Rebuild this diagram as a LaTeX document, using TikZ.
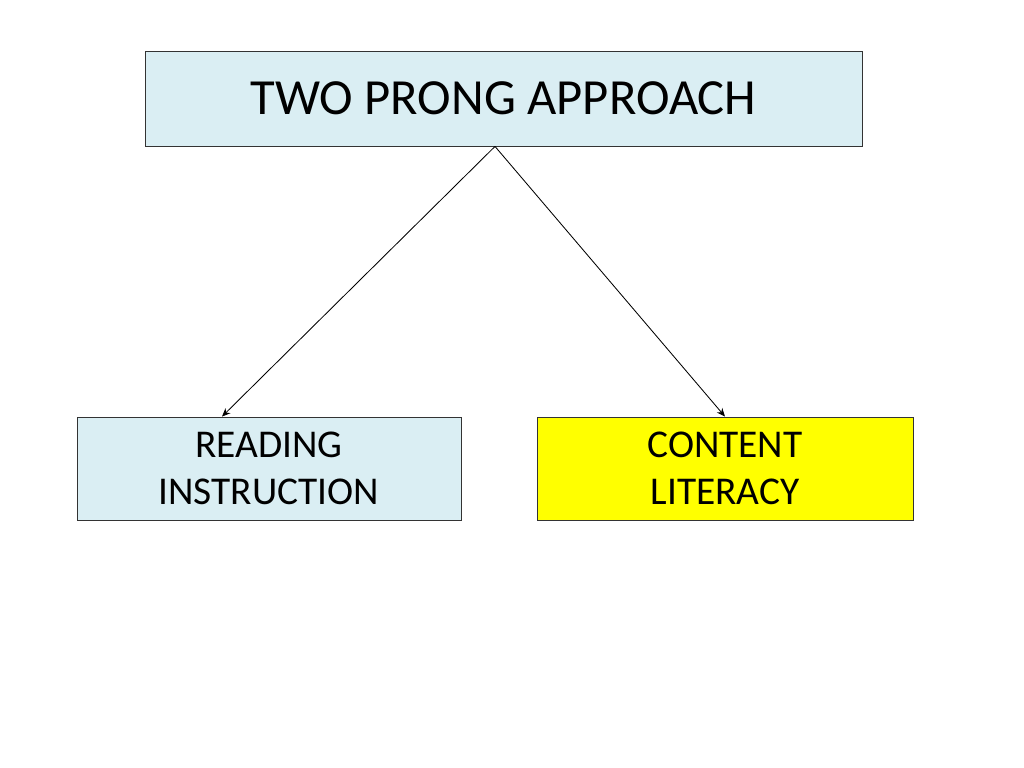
\documentclass[tikz,border=0pt]{standalone}
\usepackage{fontspec}
\setmainfont{Carlito}
\usepackage{xcolor}
\usetikzlibrary{positioning,calc,arrows.meta}
\definecolor{paleaqua}{RGB}{218,238,243}
\definecolor{brightyellow}{RGB}{255,255,0}
\tikzset{
    box/.style={draw=black!80, line width=0.6pt, minimum height=2.575cm, align=center, inner sep=0pt},
    prong/.style={-{Stealth[length=6pt,width=5pt]}, line width=0.6pt}
}
\begin{document}
\begin{tikzpicture}
    \useasboundingbox (0,0) rectangle (25.6,-19.2);
    \node[box, fill=paleaqua, minimum width=17.925cm, minimum height=2.375cm, font=\fontsize{36}{43}\selectfont] (top) at (12.5875,-2.4625) {TWO PRONG APPROACH};
    \node[box, fill=paleaqua, minimum width=9.6cm, font=\fontsize{28}{33.5}\selectfont] (read) at (6.725,-11.7125) {READING\\INSTRUCTION};
    \node[box, fill=brightyellow, minimum width=9.4cm, font=\fontsize{28}{33.5}\selectfont] (content) at (18.125,-11.7125) {CONTENT\\LITERACY};
    \coordinate (fork) at ([xshift=-0.2125cm]top.south);
    \draw[prong] (fork) -- ([xshift=-1.175cm]read.north);
    \draw[prong] (fork) -- (content.north);
\end{tikzpicture}
\end{document}
